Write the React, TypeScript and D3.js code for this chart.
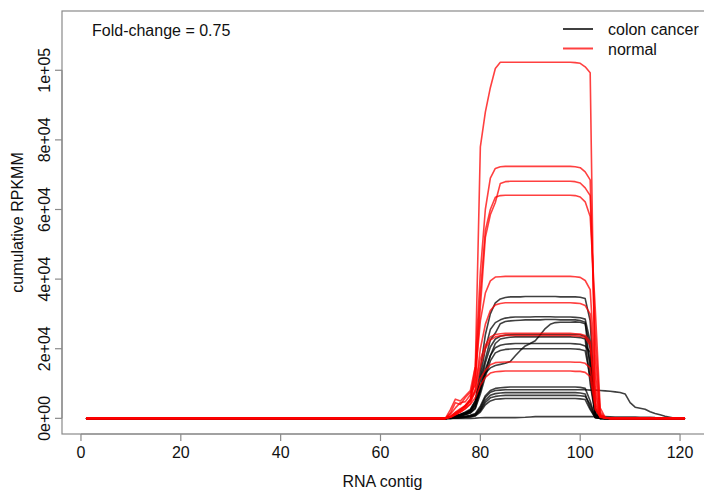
import React from 'react';
import * as d3 from 'd3';

// RNA contig positions 1..121
const contigs: number[] = d3.range(1, 122);
// every series below starts at contig 73; contigs outside the listed values are 0
const firstContig = 73;

// cumulative RPKMM, in thousands
const cancerSeries: number[][] = [
  [0,0.3,0.8,1.2,1.8,2.6,5,14,24,30,33.2, 34.3,34.7,34.9,34.9,34.9,35.0,35.0,35.0,35.0,35.0,35.0,35.0,34.9,34.9,34.9,34.9, 34.8,34.4,28,3,0.3,0,0],
  [0,0.2,0.6,1.0,1.5,2.2,4.5,12,20,25.5,27.5, 28.3,28.8,29.0,29.1,29.1,29.1,29.1,29.2,29.2,29.2,29.2,29.1,29.1,29.1,29.1,29.0, 28.9,28.5,22,2.5,0.2,0,0],
  [0,0.3,0.7,1.1,1.6,2.4,5,11,17,22.5,24.5, 27.2,27.8,28.0,28.1,28.2,28.3,28.3,28.3,28.3,28.4,28.4,28.4,28.3,28.3,28.3,28.3, 28.1,27.6,14,1.5,0.2,0,0],
  [0,0.2,0.5,0.9,1.4,2.0,4,9,13,14.5,15.2, 15.5,15.8,16.3,18.0,19.5,20.8,21.5,22.3,24.0,25.8,27.0,27.5,27.6,27.6,27.6,27.7, 27.6,27.2,20,1,0.1,0,0],
  [0,0.2,0.5,0.8,1.2,1.8,3.5,9,16,20.5,22.8, 23.6,23.9,24.0,24.1,24.1,24.1,24.1,24.1,24.1,24.1,24.1,24.1,24.1,24.1,24.1,24.1, 24.0,23.5,16,1.5,0.1,0,0],
  [0,0.2,0.6,1.0,1.5,2.2,4,8,13,18,21.5, 22.8,23.1,23.3,23.4,23.4,23.4,23.4,23.4,23.4,23.4,23.4,23.4,23.4,23.4,23.4,23.3, 23.2,22.8,10,1.0,0.1,0,0],
  [0,0.1,0.4,0.7,1.1,1.6,3,8,14,18,20.3, 21.0,21.3,21.4,21.5,21.5,21.5,21.5,21.5,21.5,21.5,21.5,21.5,21.5,21.5,21.5,21.4, 21.3,20.8,19,0.8,0,0,0],
  [0,0.1,0.3,0.6,1.0,1.5,2.8,7,12,16.5,18.8, 19.5,19.8,19.9,20.0,20.0,20.0,20.0,20.0,20.0,20.0,20.0,20.0,20.0,20.0,20.0,19.9, 19.8,19.4,12,1,0,0,0],
  [0,0.1,0.2,0.4,0.6,0.9,1.4,3.5,6.5,8.0,8.6, 8.8,8.9,9.0,9.0,9.0,9.0,9.0,9.0,9.0,9.0,9.0,9.0,9.0,9.0,9.0,9.0, 8.9,8.6,5,0.3,0,0,0],
  [0,0.1,0.2,0.3,0.5,0.8,1.2,3,6,7.5,8.0, 8.1,8.2,8.2,8.2,8.2,8.2,8.2,8.2,8.2,8.2,8.2,8.2,8.2,8.2,8.2,8.2, 8.2,8.2,8.1,8.1,8.0,7.9,7.8,7.6,7.4,7.0,4.5,3.2,2.9,2.6,1.9,1.4,1.0,0.6,0.3,0],
  [0,0.1,0.2,0.3,0.4,0.6,1.0,2.5,5.2,6.6,7.1, 7.3,7.4,7.4,7.4,7.4,7.4,7.4,7.4,7.4,7.4,7.4,7.4,7.4,7.4,7.4,7.4, 7.3,7.0,3,0.2,0,0,0],
  [0,0,0.1,0.2,0.3,0.5,0.8,2.2,4.6,5.9,6.3, 6.5,6.6,6.6,6.6,6.6,6.6,6.6,6.6,6.6,6.6,6.6,6.6,6.6,6.6,6.6,6.6, 6.5,6.3,4,0.3,0,0,0],
  [0,0,0.1,0.2,0.3,0.4,0.7,1.8,3.9,5.0,5.5, 5.6,5.7,5.7,5.7,5.7,5.7,5.7,5.7,5.7,5.7,5.7,5.7,5.7,5.7,5.7,5.7, 5.6,5.4,2.5,0.2,0,0,0],
  [0,0,0,0,0,0,0.05,0.15,0.2,0.2,0.2, 0.2,0.2,0.2,0.2,0.25,0.3,0.4,0.5,0.5,0.5,0.5,0.5,0.5,0.5,0.5,0.5, 0.5,0.5,0.5,0.5,0.5,0.5,0.45,0.4,0.4,0.4,0.35,0.35,0.3,0.3,0.3,0.2,0.15,0.1,0.05,0],
];

const normalSeries: number[][] = [
  [0,0.6,1.8,2.8,3.6,5.5,15,78,88,95,100.5, 102.3,102.3,102.3,102.3,102.3,102.3,102.3,102.3,102.3,102.3,102.3,102.3,102.3,102.3,102.3,102.2, 102.0,101.0,99.3,2.5,0.5,0.1,0],
  [0,2.5,5.5,5.0,6.5,8.0,15,42,60,69,71.8, 72.3,72.4,72.4,72.4,72.4,72.4,72.4,72.4,72.4,72.4,72.4,72.4,72.4,72.4,72.4,72.3, 72.0,70.8,68.5,18,1.2,0.2,0],
  [0,0.4,1.2,2.2,3.2,5,11,32,52,58.5,62, 67.5,68.0,68.1,68.1,68.1,68.1,68.1,68.1,68.1,68.1,68.1,68.1,68.1,68.1,68.1,68.0, 67.6,66.2,64,24,1.8,0.2,0],
  [0,1.2,3.0,4.5,4.8,6.8,13,36,54,60,63.5, 64.0,64.1,64.1,64.1,64.1,64.1,64.1,64.1,64.1,64.1,64.1,64.1,64.1,64.1,64.1,64.0, 63.6,62.2,58,32,3,0.3,0],
  [0,0.5,1.4,2.2,3.6,5.2,12,28,36,39.5,40.6, 40.7,40.8,40.8,40.8,40.8,40.8,40.8,40.8,40.8,40.8,40.8,40.8,40.8,40.8,40.8,40.7, 40.5,39.6,37,13,1,0.2,0],
  [0,0.3,1.0,1.8,2.8,4.2,8.5,20,27,31,32.6, 33.0,33.2,33.2,33.2,33.2,33.2,33.2,33.2,33.2,33.2,33.2,33.2,33.2,33.2,33.2,33.1, 33.0,32.4,30,9,0.8,0.1,0],
  [0,1.5,4.5,4.0,6.0,7.5,9.5,17,21,23.4,24.1, 24.3,24.4,24.4,24.4,24.4,24.4,24.4,24.4,24.4,24.4,24.4,24.4,24.4,24.4,24.4,24.3, 24.2,23.8,22,7,0.6,0.1,0],
  [0,0.4,1.5,2.4,3.8,5.5,8,15,20,22.5,23.4, 23.7,23.8,23.8,23.8,23.8,23.8,23.8,23.8,23.8,23.8,23.8,23.8,23.8,23.8,23.8,23.7, 23.6,23.2,21,5,0.5,0.1,0],
  [0,0.5,1.6,2.6,3.6,5.0,7.5,11.5,13.8,15.4,16.0, 16.1,16.2,16.2,16.2,16.2,16.2,16.2,16.2,16.2,16.2,16.2,16.2,16.2,16.2,16.2,16.1, 16.1,15.8,14.5,4,0.4,0.1,0],
  [0,0.3,1.0,1.8,2.8,4.0,6,9.5,11.8,13.0,13.4, 13.5,13.6,13.6,13.6,13.6,13.6,13.6,13.6,13.6,13.6,13.6,13.6,13.6,13.6,13.6,13.5, 13.5,13.2,12,3,0.3,0,0],
];

const xTicks: number[] = [0, 20, 40, 60, 80, 100, 120];
const yTicks: number[] = [0, 20, 40, 60, 80, 100];
const yTickLabels: string[] = ['0e+00', '2e+04', '4e+04', '6e+04', '8e+04', '1e+05'];
const legendLabels: string[] = ['colon cancer', 'normal'];
const annotation = 'Fold-change = 0.75';

const W = 704;
const H = 495;
const FONT = '"Liberation Sans", Arial, Helvetica, sans-serif';
const BLACK = 'rgba(0,0,0,0.75)';
const RED = 'rgba(255,0,0,0.75)';

function full(vals: number[]): [number, number][] {
  return contigs.map((c) => {
    const i = c - firstContig;
    const v = i >= 0 && i < vals.length ? vals[i] : 0;
    return [c, v];
  });
}

export default function App() {
  const xMin = d3.min(contigs) as number;
  const xMax = d3.max(contigs) as number;
  const xPad = (xMax - xMin) * 0.04;
  const x = d3.scaleLinear().domain([xMin - xPad, xMax + xPad]).range([62, 709]);

  const allMax = d3.max([...cancerSeries, ...normalSeries].flat()) as number;
  const yTop = allMax * 1.1;
  const yPad = yTop * 0.04;
  const y = d3.scaleLinear().domain([-yPad, yTop + yPad]).range([434, 11]);

  const line = d3
    .line<[number, number]>()
    .x((d) => x(d[0]))
    .y((d) => y(d[1]));

  const left = 62;
  const right = 709;
  const top = 11;
  const bottom = 434;
  const axisColor = '#8a8a8a';

  return (
    <svg
      width={W}
      height={H}
      viewBox={`0 0 ${W} ${H}`}
      style={{ position: 'absolute', left: 0, top: 0, background: '#fff' }}
      fontFamily={FONT}
    >
      <rect x={0} y={0} width={W} height={H} fill="#fff" />
      <g fill="none" strokeWidth={1.6} strokeLinejoin="round">
        {cancerSeries.map((s, i) => (
          <path key={'c' + i} d={line(full(s)) || ''} stroke={BLACK} />
        ))}
        {normalSeries.map((s, i) => (
          <path key={'n' + i} d={line(full(s)) || ''} stroke={RED} />
        ))}
      </g>
      {/* box */}
      <rect x={left} y={top} width={right - left} height={bottom - top} fill="none" stroke={axisColor} strokeWidth={1.2} />
      {/* x axis */}
      <g>
        <line x1={x(xTicks[0])} x2={x(xTicks[xTicks.length - 1])} y1={bottom} y2={bottom} stroke={axisColor} strokeWidth={1.2} />
        {xTicks.map((t) => (
          <g key={t}>
            <line x1={x(t)} x2={x(t)} y1={bottom} y2={bottom + 7} stroke={axisColor} strokeWidth={1.2} />
            <text x={x(t)} y={458} textAnchor="middle" fontSize={16} fill="#111">
              {t}
            </text>
          </g>
        ))}
        <text x={(left + right) / 2 - 3} y={487} textAnchor="middle" fontSize={16} fill="#111">
          RNA contig
        </text>
      </g>
      {/* y axis */}
      <g>
        <line x1={left} x2={left} y1={y(yTicks[0])} y2={y(yTicks[yTicks.length - 1])} stroke={axisColor} strokeWidth={1.2} />
        {yTicks.map((t, i) => (
          <g key={t}>
            <line x1={left - 7} x2={left} y1={y(t)} y2={y(t)} stroke={axisColor} strokeWidth={1.2} />
            <text
              transform={`translate(50,${y(t)}) rotate(-90)`}
              textAnchor="middle"
              fontSize={16}
              fill="#111"
            >
              {yTickLabels[i]}
            </text>
          </g>
        ))}
        <text transform={`translate(23,${(top + bottom) / 2}) rotate(-90)`} textAnchor="middle" fontSize={16} fill="#111">
          cumulative RPKMM
        </text>
      </g>
      {/* annotation */}
      <text x={92} y={36} fontSize={16} fill="#111">
        {annotation}
      </text>
      {/* legend */}
      <g>
        {legendLabels.map((lab, i) => (
          <g key={lab}>
            <line x1={563} x2={593} y1={29 + i * 19.5} y2={29 + i * 19.5} stroke={i === 0 ? BLACK : RED} strokeWidth={2} />
            <text x={608} y={35 + i * 19.5} fontSize={16} fill="#111">
              {lab}
            </text>
          </g>
        ))}
      </g>
    </svg>
  );
}
